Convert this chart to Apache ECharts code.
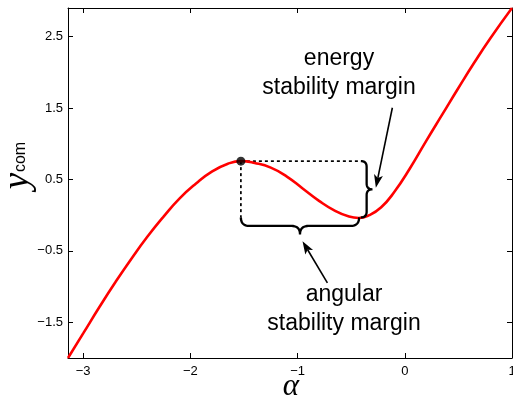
<!DOCTYPE html>
<html>
<head>
<meta charset="utf-8">
<script src="https://cdn.jsdelivr.net/npm/echarts@6/dist/echarts.min.js"></script>
<style>
  html, body { margin: 0; padding: 0; background: #fff; }
  #chart { width: 513px; height: 399px; }
</style>
</head>
<body>
<div id="chart"></div>
<script>
// curve (alpha, y_com)
const alpha = [-3.1416, -3.00, -2.85, -2.70, -2.55, -2.40, -2.25, -2.10, -1.95, -1.80,
  -1.65, -1.53, -1.40, -1.25, -1.10, -0.95, -0.80, -0.65, -0.52, -0.43,
  -0.33, -0.22, -0.10, 0.05, 0.20, 0.35, 0.50, 0.65, 0.80, 1.00];
const ycom = [-2.00, -1.656, -1.29, -0.94, -0.61, -0.30, -0.02, 0.235, 0.44, 0.61,
  0.72, 0.756, 0.73, 0.665, 0.54, 0.37, 0.20, 0.06, -0.02, -0.04,
  0.00, 0.11, 0.32, 0.66, 1.04, 1.41, 1.78, 2.14, 2.48, 2.90];

const xTicks = [-3, -2, -1, 0, 1];
const yTicks = [-1.5, -0.5, 0.5, 1.5, 2.5];

// annotation geometry in data units
const peak = [-1.529, 0.756];
const dottedH = [[-1.529, 0.756], [-0.41, 0.756]];
const dottedV = [[-1.529, 0.756], [-1.529, -0.032]];
// braces: [x1, y1, x2, y2], bulge to the right of the travel direction
const braces = [[-0.41, 0.756, -0.41, -0.032], [-0.426, -0.032, -1.529, -0.032]];
// arrows: [tailX, tailY, tipX, tipY]
const arrows = [[-0.116, 1.504, -0.270, 0.384], [-0.722, -0.947, -0.954, -0.364]];

const braceDepth = [11.6, 17];

const chart = echarts.init(document.getElementById('chart'));

const minus = v => String(v).replace('-', '\u2212');

function quad(out, a, c, b) {
  for (let i = 1; i <= 10; i++) {
    const t = i / 10, m = 1 - t;
    out.push([m * m * a[0] + 2 * m * t * c[0] + t * t * b[0],
              m * m * a[1] + 2 * m * t * c[1] + t * t * b[1]]);
  }
}

function renderBrace(params, api) {
  const p1 = api.coord([api.value(0), api.value(1)]);
  const p2 = api.coord([api.value(2), api.value(3)]);
  const d = braceDepth[params.dataIndex];
  const dx = p2[0] - p1[0], dy = p2[1] - p1[1];
  const L = Math.hypot(dx, dy);
  const ux = dx / L, uy = dy / L, nx = uy, ny = -ux;
  const h = d / 2, r = d / 2;
  const loc = [[0, 0]];
  quad(loc, [0, 0], [0, h], [r, h]);
  loc.push([L / 2 - r, h]);
  quad(loc, [L / 2 - r, h], [L / 2, h], [L / 2, d]);
  quad(loc, [L / 2, d], [L / 2, h], [L / 2 + r, h]);
  loc.push([L - r, h]);
  quad(loc, [L - r, h], [L, h], [L, 0]);
  const pts = loc.map(q => [p1[0] + q[0] * ux + q[1] * nx, p1[1] + q[0] * uy + q[1] * ny]);
  return {
    type: 'polyline',
    shape: { points: pts },
    style: { stroke: '#000', lineWidth: 2.3, fill: null }
  };
}

function renderArrow(params, api) {
  const a = api.coord([api.value(0), api.value(1)]);
  const b = api.coord([api.value(2), api.value(3)]);
  const dx = b[0] - a[0], dy = b[1] - a[1];
  const L = Math.hypot(dx, dy);
  const ux = dx / L, uy = dy / L;
  const hl = 13, hw = 4.5;
  const base = [b[0] - ux * hl, b[1] - uy * hl];
  return {
    type: 'group',
    children: [
      { type: 'line', shape: { x1: a[0], y1: a[1], x2: base[0] + ux * 3, y2: base[1] + uy * 3 },
        style: { stroke: '#000', lineWidth: 1.6 } },
      { type: 'polygon', shape: { points: [b,
          [base[0] - uy * hw, base[1] + ux * hw],
          [base[0] + ux * 3, base[1] + uy * 3],
          [base[0] + uy * hw, base[1] - ux * hw]] },
        style: { fill: '#000' } }
    ]
  };
}

const tickFont = { color: '#000', fontSize: 13, fontFamily: 'Liberation Sans' };
const frameLine = { show: true, onZero: false, lineStyle: { color: '#000', width: 1 } };

function xAxis(pos, labels) {
  return {
    type: 'value', position: pos, min: -3.1416, max: 1,
    axisLine: frameLine,
    axisTick: { show: true, inside: true, length: 5, customValues: xTicks,
      lineStyle: { color: '#000', width: 1 } },
    axisLabel: { show: labels, customValues: xTicks, margin: 7, formatter: minus, ...tickFont },
    splitLine: { show: false }
  };
}
function yAxis(pos, labels) {
  return {
    type: 'value', position: pos, min: -2, max: 2.9,
    axisLine: frameLine,
    axisTick: { show: true, inside: true, length: 5, customValues: yTicks,
      lineStyle: { color: '#000', width: 1 } },
    axisLabel: { show: labels, customValues: yTicks, margin: 5, formatter: minus, ...tickFont },
    splitLine: { show: false }
  };
}

const dotted = { color: '#000', width: 1.7, type: [3, 3] };

chart.setOption({
  animation: false,
  backgroundColor: '#fff',
  grid: { left: 68, top: 8, width: 444, height: 350, outerBoundsMode: 'none', containLabel: false },
  xAxis: [xAxis('bottom', true), xAxis('top', false)],
  yAxis: [yAxis('left', true), yAxis('right', false)],
  graphic: [
    { type: 'text', x: 339, y: 44, silent: true,
      style: { text: 'energy\nstability margin', fontSize: 23, fontFamily: 'Liberation Sans',
        fill: '#000', align: 'center', textAlign: 'center', verticalAlign: 'top',
        textVerticalAlign: 'top', lineHeight: 29 } },
    { type: 'text', x: 344, y: 280, silent: true,
      style: { text: 'angular\nstability margin', fontSize: 23, fontFamily: 'Liberation Sans',
        fill: '#000', align: 'center', textAlign: 'center', verticalAlign: 'top',
        textVerticalAlign: 'top', lineHeight: 29 } },
    { type: 'text', x: 291, y: 387, silent: true,
      style: { text: '\u03b1', font: 'italic 31px "Liberation Serif"', fill: '#000',
        align: 'center', textAlign: 'center', verticalAlign: 'middle', textVerticalAlign: 'middle' } },
    { type: 'text', x: 18, y: 181, rotation: Math.PI / 2, silent: true,
      style: { text: 'y', font: 'italic 37px "Liberation Serif"', fill: '#000',
        align: 'center', textAlign: 'center', verticalAlign: 'middle', textVerticalAlign: 'middle' } },
    { type: 'text', x: 21, y: 157, rotation: Math.PI / 2, silent: true,
      style: { text: 'com', font: '16px "Liberation Sans"', fill: '#000',
        align: 'center', textAlign: 'center', verticalAlign: 'middle', textVerticalAlign: 'middle' } }
  ],
  series: [
    { type: 'line', data: dottedH, showSymbol: false, silent: true, lineStyle: dotted },
    { type: 'line', data: dottedV, showSymbol: false, silent: true, lineStyle: dotted },
    { type: 'line', data: alpha.map((a, i) => [a, ycom[i]]), smooth: 0.5, showSymbol: false,
      silent: true, lineStyle: { color: '#ff0000', width: 2.6 } },
    { type: 'scatter', data: [peak], symbolSize: 9, itemStyle: { color: '#000' }, silent: true, z: 5 },
    { type: 'custom', data: braces, renderItem: renderBrace, encode: { x: [0, 2], y: [1, 3] }, silent: true, z: 4 },
    { type: 'custom', data: arrows, renderItem: renderArrow, encode: { x: [0, 2], y: [1, 3] }, silent: true, z: 4 }
  ]
});
</script>
</body>
</html>
